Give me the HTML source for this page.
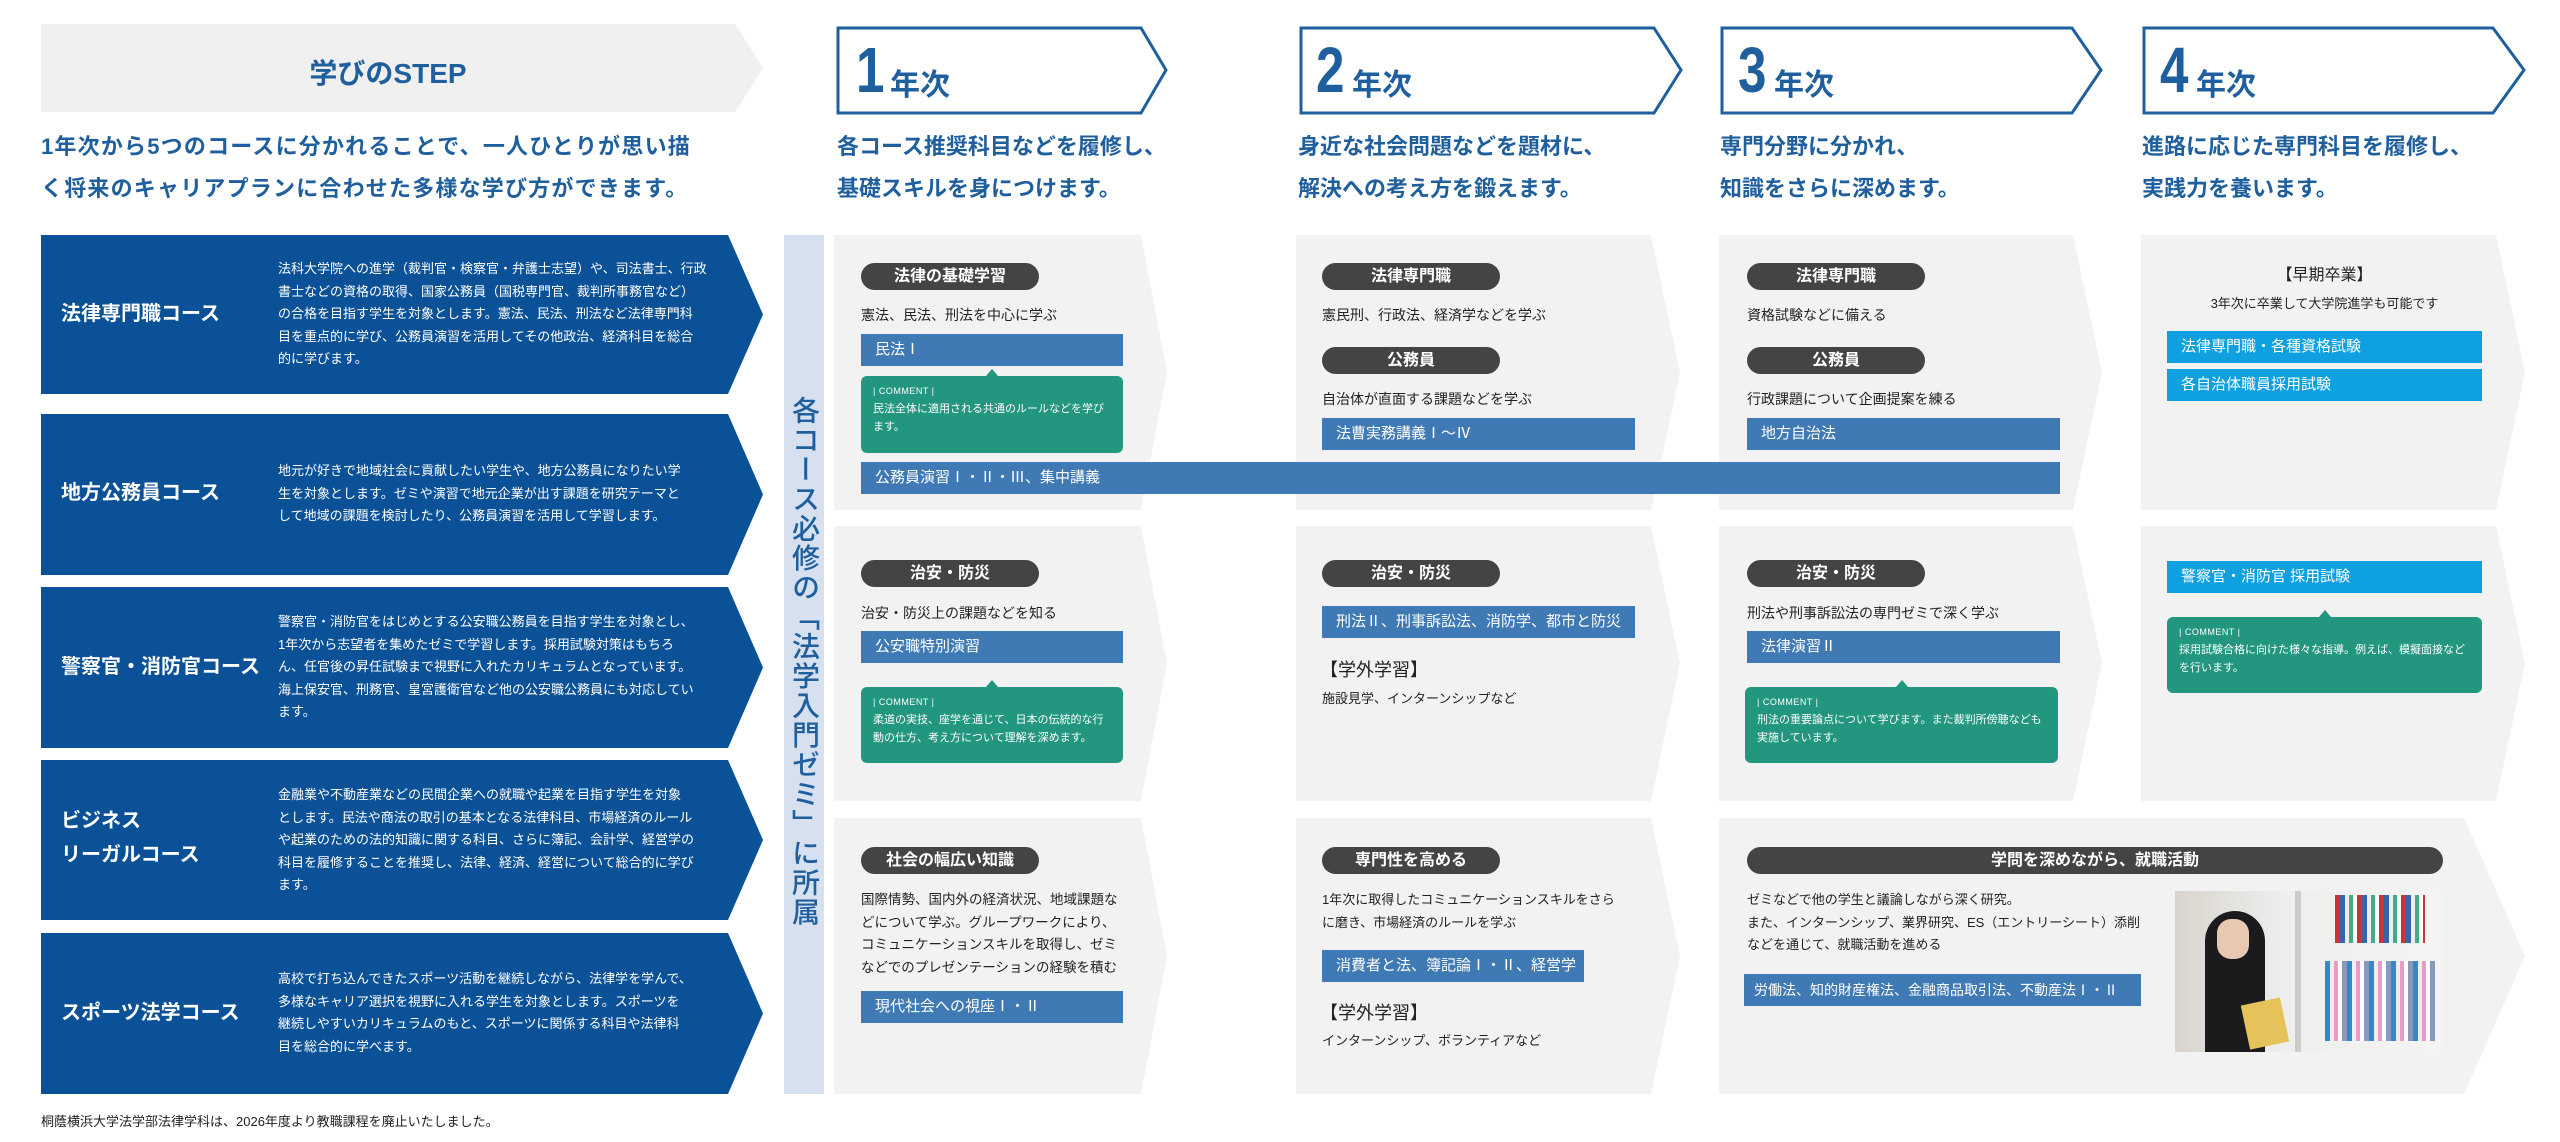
<!DOCTYPE html>
<html><head><meta charset="utf-8">
<style>
*{margin:0;padding:0;box-sizing:border-box}
body{width:2560px;height:1142px;background:#fff;position:relative;overflow:hidden;font-family:"Liberation Sans","Noto Sans CJK JP",sans-serif;color:#222}
.a{position:absolute}
.course{position:absolute;left:41px;width:722px;background:#0b5197;clip-path:polygon(0 0,687px 0,722px 50%,687px 100%,0 100%)}
.cname{position:absolute;left:20px;color:#fff;font-size:20px;font-weight:700;line-height:34px}
.cdesc{position:absolute;left:237px;width:440px;color:#fff;font-size:13px;line-height:22.6px;white-space:nowrap}
.panel{position:absolute;background:#f2f2f2}
.pill{position:absolute;height:27px;border-radius:14px;background:#444;color:#fff;font-size:16px;font-weight:700;text-align:center;line-height:27px}
.txt{position:absolute;font-size:14px;color:#222;white-space:nowrap}
.bar{position:absolute;height:32px;background:#3f7ab5;color:#fff;font-size:15px;line-height:32px;padding-left:14px;white-space:nowrap}
.cy{background:#0ea0e0}
.cm{position:absolute;background:#22967f;border-radius:6px;color:#fff;font-size:11px;line-height:18px;padding:6px 12px}
.cm:before{content:"";position:absolute;left:50%;top:-7px;margin-left:-6px;border-left:6px solid transparent;border-right:6px solid transparent;border-bottom:7px solid #22967f}
.cm .t{font-size:9px;letter-spacing:.5px}
.yd{position:absolute;color:#1f5f9e;font-size:22px;font-weight:700;line-height:42px;white-space:nowrap}
.gl{position:absolute;font-size:18px;color:#222}
.num{position:absolute;top:30px;font-size:64px;font-weight:700;color:#1f5f9e;line-height:80px;transform:scaleX(.8);transform-origin:left}
.nen{position:absolute;top:60px;font-size:30px;font-weight:700;color:#1f5f9e}
</style></head><body>

<div class="a" style="left:41px;top:24px;width:722px;height:88px;background:#f0f0f0;clip-path:polygon(0 0,694px 0,722px 50%,694px 100%,0 100%)"></div>
<div class="a" style="left:41px;top:52px;width:694px;text-align:center;font-size:28px;font-weight:700;color:#1f5f9e">学びのSTEP</div>

<svg class="a" style="left:0;top:0" width="2560" height="130">
<g fill="none" stroke="#1f5f9e" stroke-width="3">
<polygon points="838,28 1141,28 1166,70 1141,113 838,113"/>
<polygon points="1301,28 1654,28 1681,70 1654,113 1301,113"/>
<polygon points="1722,28 2072,28 2101,70 2072,113 1722,113"/>
<polygon points="2144,28 2493,28 2524,70 2493,113 2144,113"/>
</g></svg>
<div class="num" style="left:856px">1</div><div class="nen" style="left:890px">年次</div>
<div class="num" style="left:1316px">2</div><div class="nen" style="left:1352px">年次</div>
<div class="num" style="left:1738px">3</div><div class="nen" style="left:1774px">年次</div>
<div class="num" style="left:2160px">4</div><div class="nen" style="left:2196px">年次</div>

<div class="yd" style="left:41px;top:126px;letter-spacing:1.2px">1年次から5つのコースに分かれることで、一人ひとりが思い描<br>く将来のキャリアプランに合わせた多様な学び方ができます。</div>
<div class="yd" style="left:837px;top:126px">各コース推奨科目などを履修し、<br>基礎スキルを身につけます。</div>
<div class="yd" style="left:1298px;top:126px">身近な社会問題などを題材に、<br>解決への考え方を鍛えます。</div>
<div class="yd" style="left:1720px;top:126px">専門分野に分かれ、<br>知識をさらに深めます。</div>
<div class="yd" style="left:2142px;top:126px">進路に応じた専門科目を履修し、<br>実践力を養います。</div>

<div class="course" style="top:235px;height:159px"><div class="cname" style="top:62px">法律専門職コース</div><div class="cdesc" style="top:23px">法科大学院への進学（裁判官・検察官・弁護士志望）や、司法書士、行政<br>書士などの資格の取得、国家公務員（国税専門官、裁判所事務官など）<br>の合格を目指す学生を対象とします。憲法、民法、刑法など法律専門科<br>目を重点的に学び、公務員演習を活用してその他政治、経済科目を総合<br>的に学びます。</div></div>
<div class="course" style="top:414px;height:161px"><div class="cname" style="top:62px">地方公務員コース</div><div class="cdesc" style="top:46px">地元が好きで地域社会に貢献したい学生や、地方公務員になりたい学<br>生を対象とします。ゼミや演習で地元企業が出す課題を研究テーマと<br>して地域の課題を検討したり、公務員演習を活用して学習します。</div></div>
<div class="course" style="top:587px;height:161px"><div class="cname" style="top:63px">警察官・消防官コース</div><div class="cdesc" style="top:24px">警察官・消防官をはじめとする公安職公務員を目指す学生を対象とし、<br>1年次から志望者を集めたゼミで学習します。採用試験対策はもちろ<br>ん、任官後の昇任試験まで視野に入れたカリキュラムとなっています。<br>海上保安官、刑務官、皇宮護衛官など他の公安職公務員にも対応してい<br>ます。</div></div>
<div class="course" style="top:760px;height:160px"><div class="cname" style="top:44px">ビジネス<br>リーガルコース</div><div class="cdesc" style="top:24px">金融業や不動産業などの民間企業への就職や起業を目指す学生を対象<br>とします。民法や商法の取引の基本となる法律科目、市場経済のルール<br>や起業のための法的知識に関する科目、さらに簿記、会計学、経営学の<br>科目を履修することを推奨し、法律、経済、経営について総合的に学び<br>ます。</div></div>
<div class="course" style="top:933px;height:161px"><div class="cname" style="top:63px">スポーツ法学コース</div><div class="cdesc" style="top:35px">高校で打ち込んできたスポーツ活動を継続しながら、法律学を学んで、<br>多様なキャリア選択を視野に入れる学生を対象とします。スポーツを<br>継続しやすいカリキュラムのもと、スポーツに関係する科目や法律科<br>目を総合的に学べます。</div></div>

<div class="a" style="left:784px;top:235px;width:40px;height:859px;background:#d6e0ef"></div>
<div class="a" style="left:789px;top:396px;width:30px;font-size:28px;letter-spacing:1.5px;line-height:30px;color:#1f5f9e;writing-mode:vertical-rl;font-weight:500">各コース必修の「法学入門ゼミ」に所属</div>

<div class="panel" style="left:834px;top:235px;width:333px;height:275px;clip-path:polygon(0 0,307px 0,333px 50%,307px 100%,0 100%)"></div>
<div class="panel" style="left:834px;top:526px;width:333px;height:275px;clip-path:polygon(0 0,307px 0,333px 50%,307px 100%,0 100%)"></div>
<div class="panel" style="left:834px;top:818px;width:333px;height:276px;clip-path:polygon(0 0,307px 0,333px 50%,307px 100%,0 100%)"></div>
<div class="panel" style="left:1296px;top:235px;width:384px;height:275px;clip-path:polygon(0 0,355px 0,384px 50%,355px 100%,0 100%)"></div>
<div class="panel" style="left:1296px;top:526px;width:384px;height:275px;clip-path:polygon(0 0,355px 0,384px 50%,355px 100%,0 100%)"></div>
<div class="panel" style="left:1296px;top:818px;width:384px;height:276px;clip-path:polygon(0 0,355px 0,384px 50%,355px 100%,0 100%)"></div>
<div class="panel" style="left:1719px;top:235px;width:383px;height:275px;clip-path:polygon(0 0,354px 0,383px 50%,354px 100%,0 100%)"></div>
<div class="panel" style="left:1719px;top:526px;width:383px;height:275px;clip-path:polygon(0 0,354px 0,383px 50%,354px 100%,0 100%)"></div>
<div class="panel" style="left:2141px;top:235px;width:384px;height:275px;clip-path:polygon(0 0,355px 0,384px 50%,355px 100%,0 100%)"></div>
<div class="panel" style="left:2141px;top:526px;width:384px;height:275px;clip-path:polygon(0 0,355px 0,384px 50%,355px 100%,0 100%)"></div>
<div class="panel" style="left:1719px;top:818px;width:806px;height:276px;clip-path:polygon(0 0,745px 0,806px 50%,745px 100%,0 100%)"></div>

<div class="pill" style="left:861px;top:263px;width:178px">法律の基礎学習</div>
<div class="txt" style="left:861px;top:305px">憲法、民法、刑法を中心に学ぶ</div>
<div class="bar" style="left:861px;top:334px;width:262px">民法Ⅰ</div>
<div class="cm" style="left:861px;top:376px;width:262px;height:77px"><div class="t">| COMMENT |</div>民法全体に適用される共通のルールなどを学びます。</div>
<div class="bar" style="left:861px;top:462px;width:1199px">公務員演習Ⅰ・Ⅱ・Ⅲ、集中講義</div>

<div class="pill" style="left:1322px;top:263px;width:178px">法律専門職</div>
<div class="txt" style="left:1322px;top:305px">憲民刑、行政法、経済学などを学ぶ</div>
<div class="pill" style="left:1322px;top:347px;width:178px">公務員</div>
<div class="txt" style="left:1322px;top:389px">自治体が直面する課題などを学ぶ</div>
<div class="bar" style="left:1322px;top:418px;width:313px">法曹実務講義Ⅰ～Ⅳ</div>

<div class="pill" style="left:1747px;top:263px;width:178px">法律専門職</div>
<div class="txt" style="left:1747px;top:305px">資格試験などに備える</div>
<div class="pill" style="left:1747px;top:347px;width:178px">公務員</div>
<div class="txt" style="left:1747px;top:389px">行政課題について企画提案を練る</div>
<div class="bar" style="left:1747px;top:418px;width:313px">地方自治法</div>

<div class="a" style="left:2167px;width:315px;top:261px;text-align:center;font-size:16px">【早期卒業】</div>
<div class="a" style="left:2167px;width:315px;top:293px;text-align:center;font-size:13px">3年次に卒業して大学院進学も可能です</div>
<div class="bar cy" style="left:2167px;top:331px;width:315px">法律専門職・各種資格試験</div>
<div class="bar cy" style="left:2167px;top:369px;width:315px">各自治体職員採用試験</div>

<div class="pill" style="left:861px;top:560px;width:178px">治安・防災</div>
<div class="txt" style="left:861px;top:603px">治安・防災上の課題などを知る</div>
<div class="bar" style="left:861px;top:631px;width:262px">公安職特別演習</div>
<div class="cm" style="left:861px;top:687px;width:262px;height:76px"><div class="t">| COMMENT |</div>柔道の実技、座学を通じて、日本の伝統的な行動の仕方、考え方について理解を深めます。</div>

<div class="pill" style="left:1322px;top:560px;width:178px">治安・防災</div>
<div class="bar" style="left:1322px;top:606px;width:313px">刑法Ⅱ、刑事訴訟法、消防学、都市と防災</div>
<div class="gl" style="left:1320px;top:656px">【学外学習】</div>
<div class="txt" style="left:1322px;top:688px;font-size:13px">施設見学、インターンシップなど</div>

<div class="pill" style="left:1747px;top:560px;width:178px">治安・防災</div>
<div class="txt" style="left:1747px;top:603px">刑法や刑事訴訟法の専門ゼミで深く学ぶ</div>
<div class="bar" style="left:1747px;top:631px;width:313px">法律演習Ⅱ</div>
<div class="cm" style="left:1745px;top:687px;width:313px;height:76px"><div class="t">| COMMENT |</div>刑法の重要論点について学びます。また裁判所傍聴なども実施しています。</div>

<div class="bar cy" style="left:2167px;top:561px;width:315px">警察官・消防官 採用試験</div>
<div class="cm" style="left:2167px;top:617px;width:315px;height:76px"><div class="t">| COMMENT |</div>採用試験合格に向けた様々な指導。例えば、模擬面接などを行います。</div>

<div class="pill" style="left:861px;top:847px;width:178px">社会の幅広い知識</div>
<div class="txt" style="left:861px;top:889px;line-height:22.6px;font-size:13.5px">国際情勢、国内外の経済状況、地域課題な<br>どについて学ぶ。グループワークにより、<br>コミュニケーションスキルを取得し、ゼミ<br>などでのプレゼンテーションの経験を積む</div>
<div class="bar" style="left:861px;top:991px;width:262px">現代社会への視座Ⅰ・Ⅱ</div>

<div class="pill" style="left:1322px;top:847px;width:178px">専門性を高める</div>
<div class="txt" style="left:1322px;top:889px;line-height:22.6px;font-size:13px">1年次に取得したコミュニケーションスキルをさら<br>に磨き、市場経済のルールを学ぶ</div>
<div class="bar" style="left:1322px;top:950px;width:262px">消費者と法、簿記論Ⅰ・Ⅱ、経営学</div>
<div class="gl" style="left:1320px;top:999px">【学外学習】</div>
<div class="txt" style="left:1322px;top:1030px;font-size:13px">インターンシップ、ボランティアなど</div>

<div class="pill" style="left:1747px;top:847px;width:696px">学問を深めながら、就職活動</div>
<div class="txt" style="left:1747px;top:889px;line-height:22.6px;font-size:13px">ゼミなどで他の学生と議論しながら深く研究。<br>また、インターンシップ、業界研究、ES（エントリーシート）添削<br>などを通じて、就職活動を進める</div>
<div class="bar" style="left:1744px;top:974px;width:397px;font-size:14px;padding-left:10px">労働法、知的財産権法、金融商品取引法、不動産法Ⅰ・Ⅱ</div>

<div class="a" style="left:2175px;top:891px;width:268px;height:161px;background:#e8e8e6;overflow:hidden">
 <div class="a" style="left:0;top:0;width:268px;height:161px;background:linear-gradient(90deg,#d8d4cc 0,#eee 40%,#f4f4f2 100%)"></div>
 <div class="a" style="left:120px;top:0;width:6px;height:161px;background:#ccc"></div>
 <div class="a" style="left:160px;top:4px;width:90px;height:48px;background:repeating-linear-gradient(90deg,#c33 0 5px,#36a 5px 10px,#eee 10px 14px,#4a8 14px 18px,#fff 18px 22px)"></div>
 <div class="a" style="left:150px;top:70px;width:110px;height:80px;background:repeating-linear-gradient(90deg,#38c 0 5px,#eee 5px 9px,#e9c 9px 13px,#fff 13px 17px,#89b 17px 22px)"></div>
 <div class="a" style="left:30px;top:20px;width:60px;height:141px;background:#1b1b1e;border-radius:30px 30px 0 0"></div>
 <div class="a" style="left:42px;top:28px;width:32px;height:40px;background:#e8c8b0;border-radius:14px"></div>
 <div class="a" style="left:70px;top:110px;width:40px;height:45px;background:#e6c25a;transform:rotate(-12deg)"></div>
</div>

<div class="a" style="left:41px;top:1111px;font-size:13px;color:#222">桐蔭横浜大学法学部法律学科は、2026年度より教職課程を廃止いたしました。</div>
</body></html>
